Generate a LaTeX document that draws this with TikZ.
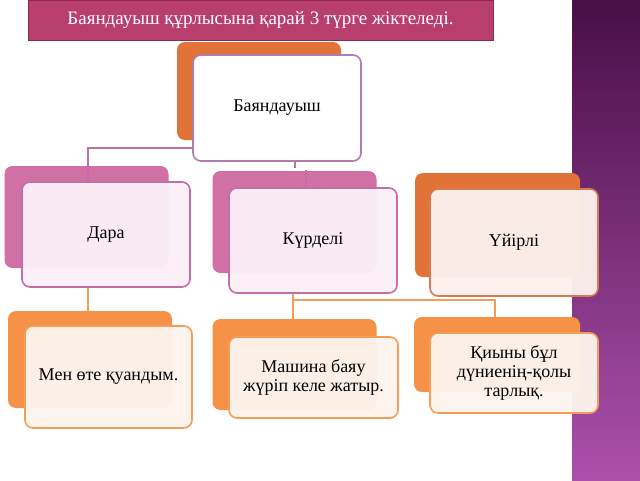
\documentclass[tikz,border=0pt]{standalone}
\usepackage{fontspec}
\setmainfont{Liberation Serif}
\usetikzlibrary{positioning, calc}
\definecolor{ctitle}{RGB}{184,62,110}
\definecolor{ctitleline}{RGB}{140,40,82}
\definecolor{cpink}{RGB}{208,112,164}
\definecolor{cpinkline}{RGB}{195,110,165}
\definecolor{cpinkfill}{RGB}{252,240,247}
\definecolor{cburnt}{RGB}{225,115,56}
\definecolor{cburntline}{RGB}{215,122,82}
\definecolor{cburntfill}{RGB}{252,241,236}
\definecolor{corange}{RGB}{245,146,72}
\definecolor{corangeline}{RGB}{242,158,88}
\definecolor{corangefill}{RGB}{253,244,237}
\definecolor{crootline}{RGB}{175,125,175}
\definecolor{cbandtop}{RGB}{72,14,70}
\definecolor{cbandbot}{RGB}{172,80,172}

\begin{document}
\begin{tikzpicture}[x=1pt, y=-1pt,
    back/.style={fill=#1, rounded corners=8pt, inner sep=0pt, minimum width=164pt},
    front/.style={draw=#1, line width=1.6pt, rounded corners=8pt, inner sep=2pt, minimum width=168pt, align=center, font=\fontsize{18}{19}\selectfont, fill opacity=0.96, text opacity=1},
    pinkline/.style={draw=cpinkline, line width=1.3pt},
    orangeline/.style={draw=corangeline, line width=2pt},
]
\useasboundingbox (0,0) rectangle (640,480);
\fill[white] (0,0) rectangle (640,480);
\shade[top color=cbandtop, bottom color=cbandbot] (572,0) rectangle (640,480);

\node[fill=ctitle, draw=ctitleline, line width=1pt, minimum width=465pt, minimum height=40pt, text=white, font=\fontsize{19}{22}\selectfont] (title) at (260.5,20) {Баяндауыш құрлысына қарай 3 түрге жіктеледі.};

\node[back=cburnt, minimum height=98pt] (rootback) at (259,91) {};
\node[back=cpink, minimum height=102pt] (daraback) at (86.5,217) {};
\node[back=cpink, minimum height=102pt] (kurdeliback) at (294.5,222) {};
\node[back=cburnt, minimum width=165pt, minimum height=104pt] (uyirliback) at (497.5,225) {};
\node[back=corange, minimum height=97pt] (menback) at (90,359.5) {};
\node[back=corange, minimum height=91pt] (mashinaback) at (294.5,364.5) {};
\node[back=corange, minimum width=166pt, minimum height=75pt] (qiynyback) at (497,354.5) {};

\coordinate (pj) at (88,148);
\coordinate (kj) at (295,148);
\coordinate (oj) at (293,300);
\coordinate (qj) at (495,300);

\draw[pinkline] (daraback.north -| pj) ++(0,16) -- (pj) -- (kj) -- ++(0,20);
\draw[pinkline] (306,170) -- (306,189);
\draw[orangeline] (pj |- 0,287) -- (pj |- menback.north);
\draw[orangeline] (oj |- 0,293) -- (oj) -- (qj) -- (qj |- qiynyback.north);
\draw[orangeline] (oj) -- (oj |- mashinaback.north);

\node[front=crootline, fill=white, fill opacity=1, minimum height=106pt] (root) at (277,108) {Баяндауыш};
\node[front=cpinkline, fill=cpinkfill, minimum height=105pt] (dara) at (106,234.5) {Дара};
\node[front=cpinkline, fill=cpinkfill, minimum height=105pt] (kurdeli) at (313,240.5) {Күрделі};
\node[front=cburntline, fill=cburntfill, minimum height=107pt] (uyirli) at (514,242.5) {Үйірлі};
\node[front=corangeline, fill=corangefill, minimum width=167pt, minimum height=102pt] (men) at (108.5,377) {Мен өте қуандым.};
\node[front=corangeline, fill=corangefill, minimum width=169pt, minimum height=81pt] (mashina) at (313.5,377.5) {Машина баяу\\жүріп келе жатыр.};
\node[front=corangeline, fill=corangefill, minimum height=80pt] (qiyny) at (514,373) {Қиыны бұл\\дүниенің-қолы\\тарлық.};

\end{tikzpicture}
\end{document}
